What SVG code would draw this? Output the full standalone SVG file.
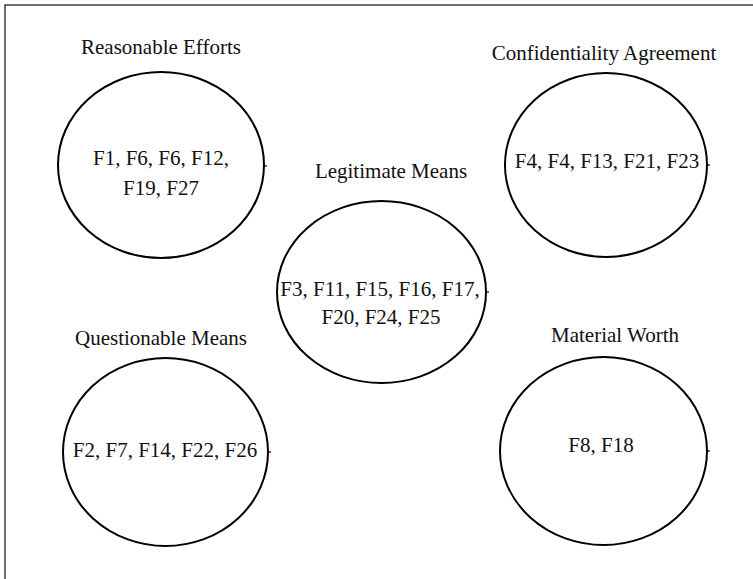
<svg xmlns="http://www.w3.org/2000/svg" width="753" height="579" viewBox="0 0 753 579">
<style>
.bg{fill:#fff}
.frame{fill:none;stroke:#222;stroke-width:1.3}
.set{fill:#fff;stroke:#000;stroke-width:2}
.tick{stroke:#000;stroke-width:1.2}
text{font-family:"Liberation Serif","Times New Roman",serif;font-size:21px;fill:#111;text-anchor:middle}
</style>
<rect class="bg" x="0" y="0" width="753" height="579"/>
<rect class="frame" x="5" y="5" width="760" height="600"/>
<g id="connectors"></g>
<g id="reasonable-efforts">
<text x="161" y="54">Reasonable Efforts</text>
<ellipse class="set" cx="161" cy="165" rx="103" ry="93"/>
<line class="tick" x1="264" y1="166" x2="267" y2="166"/>
<text x="161" y="165">F1, F6, F6, F12,</text>
<text x="161" y="195">F19, F27</text>
</g>
<g id="confidentiality-agreement">
<text x="604" y="60">Confidentiality Agreement</text>
<ellipse class="set" cx="606" cy="165" rx="101" ry="92"/>
<line class="tick" x1="707" y1="165" x2="710" y2="165"/>
<text x="607" y="168">F4, F4, F13, F21, F23</text>
</g>
<g id="legitimate-means">
<text x="391" y="178">Legitimate Means</text>
<ellipse class="set" cx="381.5" cy="292" rx="104.5" ry="91"/>
<line class="tick" x1="486" y1="292" x2="489" y2="292"/>
<text x="380" y="296">F3, F11, F15, F16, F17,</text>
<text x="381" y="324">F20, F24, F25</text>
</g>
<g id="questionable-means">
<text x="161" y="345">Questionable Means</text>
<ellipse class="set" cx="165.5" cy="452" rx="102.5" ry="94"/>
<line class="tick" x1="268" y1="452" x2="271" y2="452"/>
<text x="165" y="457">F2, F7, F14, F22, F26</text>
</g>
<g id="material-worth">
<text x="615" y="342">Material Worth</text>
<ellipse class="set" cx="603.5" cy="451" rx="103.5" ry="94"/>
<line class="tick" x1="707" y1="451" x2="710" y2="451"/>
<text x="601" y="452">F8, F18</text>
</g>
</svg>
